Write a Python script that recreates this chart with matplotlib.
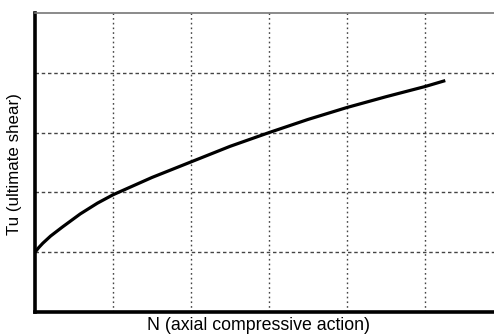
import matplotlib
matplotlib.use("Agg")
import matplotlib.pyplot as plt

# Data (arbitrary units)
n_values = [0.0, 0.05, 0.1, 0.2, 0.35, 0.58, 0.8, 1.0, 1.5, 2.0, 2.5, 3.0, 3.5, 4.0, 4.5, 5.0, 5.26]
tu_values = [1.0, 1.08, 1.15, 1.27, 1.42, 1.64, 1.82, 1.96, 2.25, 2.51, 2.77, 3.00, 3.22, 3.42, 3.60, 3.77, 3.87]

x_grid = [1, 2, 3, 4, 5]
y_grid = [1, 2, 3, 4]

plt.rcParams['font.family'] = ['Liberation Sans', 'DejaVu Sans']

fig = plt.figure(figsize=(4.94, 3.34), dpi=100)
ax = fig.add_axes([35/494, 22/334, 468/494, 299/334])
ax.set_xlim(0, 6)
ax.set_ylim(0, 5)

for xv in x_grid:
    ax.axvline(xv, color='#444444', lw=1.0, ls=(0, (1.2, 2.2)), zorder=1)
for yv in y_grid:
    ax.axhline(yv, color='#444444', lw=1.0, ls=(0, (2.5, 2.0)), zorder=1)

ax.plot(n_values, tu_values, color='black', lw=2.3, solid_capstyle='butt',
        solid_joinstyle='round', zorder=3)

ax.set_xticks([])
ax.set_yticks([])
ax.spines['left'].set_linewidth(2.6)
ax.spines['bottom'].set_linewidth(2.6)
ax.spines['left'].set_color('black')
ax.spines['bottom'].set_color('black')
ax.spines['top'].set_linewidth(1.2)
ax.spines['top'].set_color('#777777')
ax.spines['right'].set_visible(False)

fig.text(258.5/494, 1 - 326/334, 'N (axial compressive action)', ha='center', va='center', fontsize=12.8)
fig.text(15/494, 1 - 164/334, 'Tu (ultimate shear)', ha='center', va='center', rotation=90, fontsize=12.2)

fig.savefig('out.png', dpi=100, facecolor='white')
